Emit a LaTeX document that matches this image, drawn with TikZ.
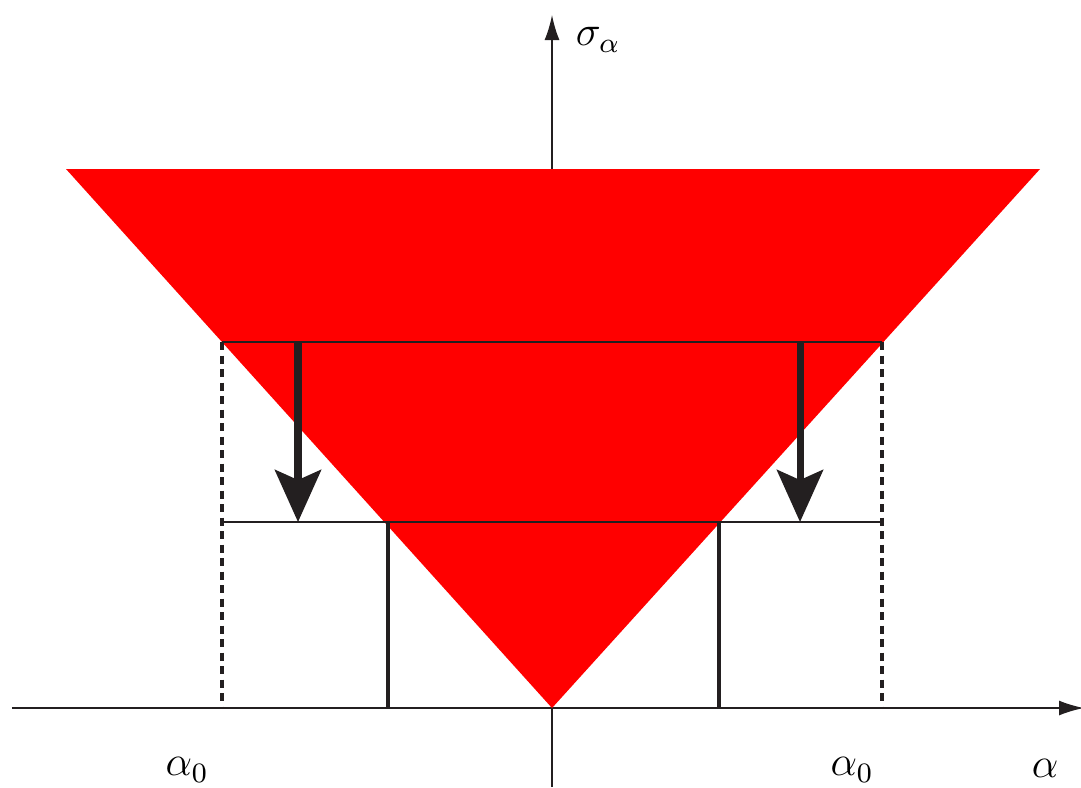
\documentclass[tikz,border=0pt]{standalone}
\usepackage{tikz}
\usetikzlibrary{arrows.meta, calc}
\usepackage{amsmath}
\definecolor{conered}{RGB}{255,0,0}
\definecolor{ink}{RGB}{35,31,32}

\begin{document}
\begin{tikzpicture}[font=\large,
    axisline/.style={ink, line width=0.5pt, -{Latex[length=2.5mm, width=1.5mm]}},
    level/.style={ink, line width=0.6pt},
    bound/.style={ink, line width=1.4pt, dash pattern=on 0.08cm off 0.055cm},
    limit/.style={ink, line width=1.4pt},
    droparrow/.style={ink, line width=2pt, -{Stealth[length=5.2mm, width=4.6mm, inset=1mm]}}]
        \useasboundingbox (0, 0) rectangle (10.81, 7.87);
        % axes
        \coordinate (o) at (5.52, 0.79);
        \coordinate (xend) at (10.84, 0.79);
        \coordinate (yend) at (5.52, 7.72);
        \draw[axisline] (0.12, 0.79) -- (xend);
        \draw[axisline] (5.52, 0) -- (yend);
        % admissible cone
        \coordinate (tl) at (0.66, 6.18);
        \coordinate (tr) at (10.40, 6.18);
        \fill[conered] (tl) -- (tr) -- (o) -- cycle;
        % levels
        \coordinate (ul) at (2.22, 4.45);
        \coordinate (ur) at (8.82, 4.45);
        \coordinate (ll) at (2.22, 2.65);
        \coordinate (lr) at (8.82, 2.65);
        \draw[level] (ul) -- (ur);
        \draw[level] (ll) -- (lr);
        \draw[bound] (ul) -- (2.22, 0.79);
        \draw[bound] (ur) -- (8.82, 0.79);
        \draw[limit] (3.88, 2.65) -- (3.88, 0.79);
        \draw[limit] (7.19, 2.65) -- (7.19, 0.79);
        \draw[droparrow] (2.98, 4.45) -- (2.98, 2.65);
        \draw[droparrow] (8.00, 4.45) -- (8.00, 2.65);
        % labels
        \node (sig) at (5.98, 7.47) {$\sigma_\alpha$};
        \node (aleft) at (1.87, 0.17) {$\alpha_0$};
        \node (aright) at (8.52, 0.17) {$\alpha_0$};
        \node (alab) at (10.45, 0.19) {$\alpha$};
      \end{tikzpicture}
\end{document}
